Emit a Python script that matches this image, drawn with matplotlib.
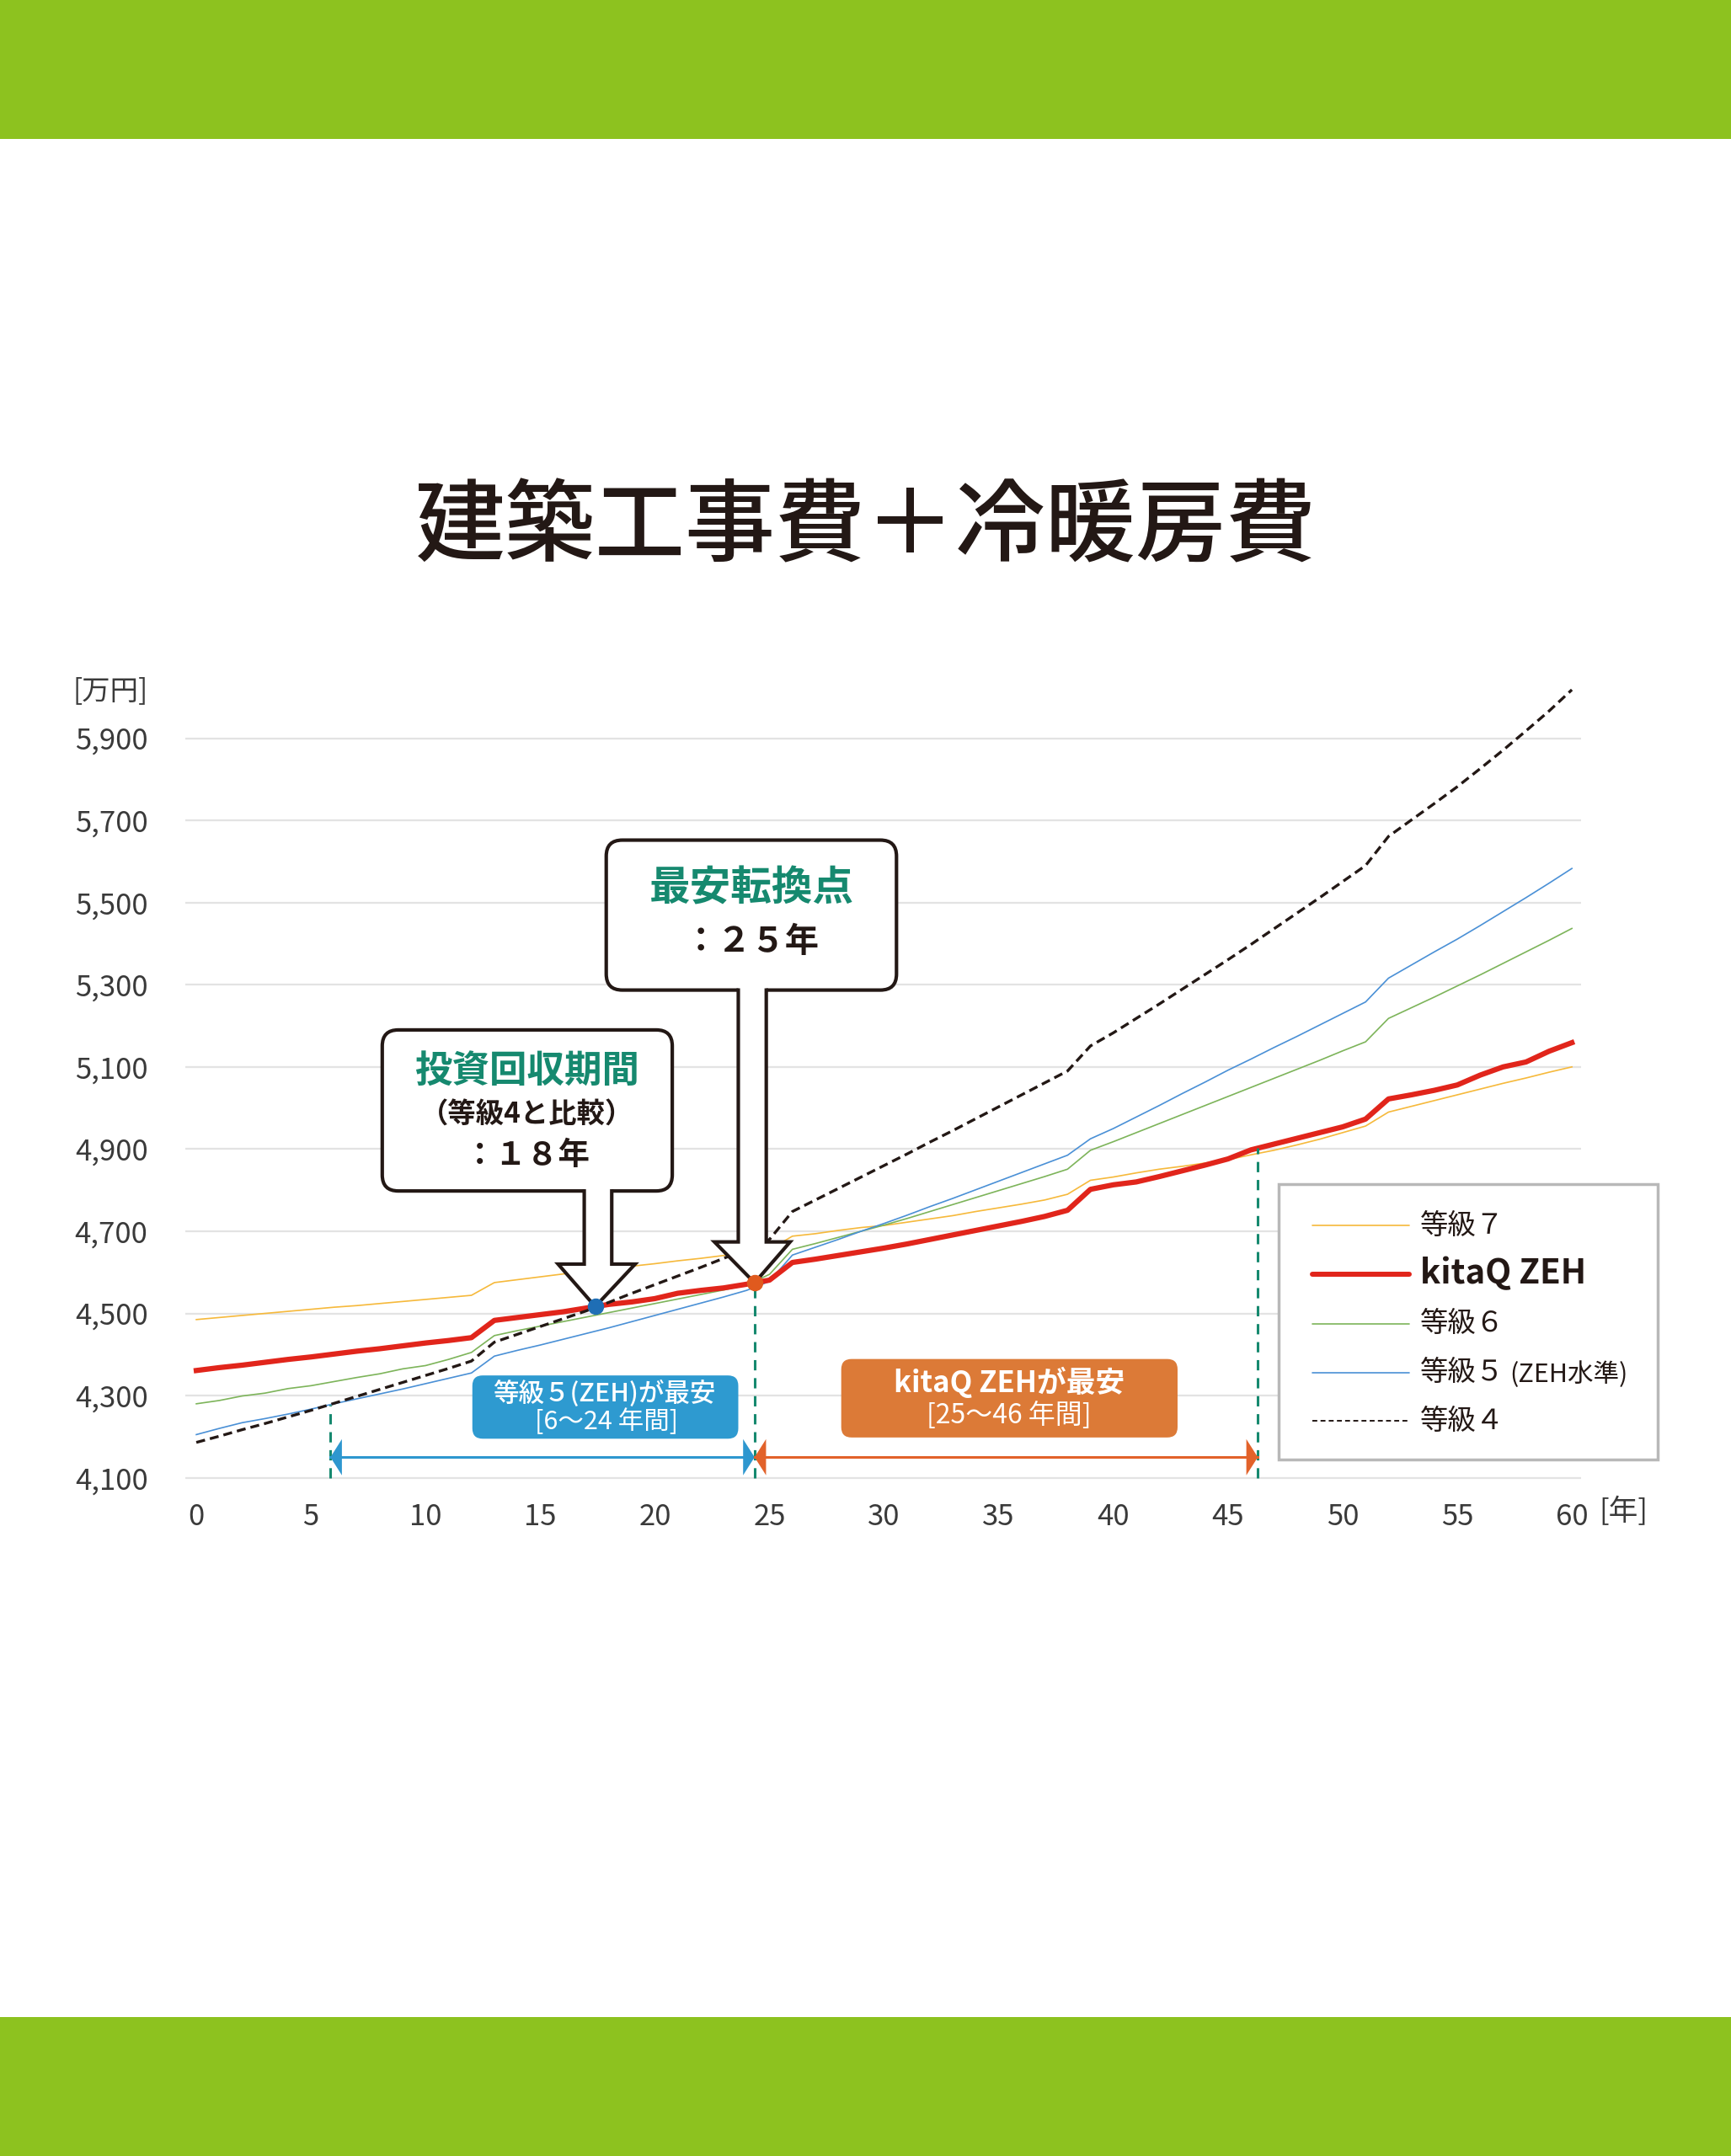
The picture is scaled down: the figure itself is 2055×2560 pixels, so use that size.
import numpy as np
import matplotlib.pyplot as plt
from matplotlib.patches import Rectangle, FancyBboxPatch, Polygon
from matplotlib.lines import Line2D

plt.rcParams['font.family'] = ['Noto Sans CJK JP', 'DejaVu Sans']

# --- data (万円) ---
years = list(range(0, 61))

grade7 = [4485, 4490, 4495, 4500, 4505, 4510, 4515, 4519, 4524, 4529, 4534, 4539, 4544,
          4575, 4582, 4589, 4596, 4603, 4609, 4615, 4621, 4628, 4634, 4641, 4647, 4655,
          4688, 4694, 4702, 4709, 4714, 4722, 4730, 4738, 4748, 4757, 4766, 4776, 4790,
          4824, 4832, 4842, 4851, 4858, 4866, 4874, 4886, 4897, 4910, 4924, 4940, 4956,
          4990, 5004, 5018, 5032, 5046, 5060, 5073, 5087, 5100]

kitaq = [4361, 4368, 4374, 4381, 4388, 4394, 4401, 4408, 4414, 4421, 4428, 4434, 4441,
         4483, 4490, 4497, 4504, 4513, 4522, 4528, 4536, 4549, 4556, 4562, 4571, 4581,
         4624, 4632, 4641, 4650, 4659, 4669, 4680, 4691, 4702, 4713, 4724, 4736, 4751,
         4802, 4813, 4820, 4833, 4847, 4861, 4876, 4898, 4912, 4926, 4940, 4954, 4973,
         5022, 5032, 5043, 5056, 5080, 5100, 5112, 5138, 5159]

grade6 = [4280, 4288, 4299, 4306, 4317, 4324, 4334, 4344, 4353, 4365, 4373, 4388, 4405,
          4446, 4458, 4469, 4480, 4491, 4502, 4513, 4524, 4535, 4546, 4557, 4569, 4595,
          4656, 4670, 4685, 4700, 4715, 4731, 4748, 4765, 4782, 4799, 4816, 4833, 4851,
          4897, 4918, 4940, 4962, 4984, 5006, 5028, 5050, 5072, 5094, 5116, 5139, 5161,
          5218, 5244, 5270, 5297, 5324, 5352, 5380, 5408, 5437]

grade5 = [4205, 4220, 4234, 4244, 4255, 4267, 4280, 4292, 4304, 4316, 4329, 4342, 4355,
          4396, 4410, 4423, 4437, 4451, 4465, 4480, 4495, 4510, 4525, 4540, 4556, 4578,
          4642, 4661, 4680, 4700, 4719, 4739, 4760, 4780, 4801, 4822, 4843, 4864, 4885,
          4925, 4950, 4978, 5006, 5035, 5063, 5092, 5119, 5147, 5174, 5202, 5230, 5258,
          5316, 5348, 5380, 5411, 5444, 5478, 5512, 5547, 5583]

grade4 = [4186, 4201, 4217, 4232, 4248, 4264, 4281, 4298, 4315, 4332, 4349, 4366, 4384,
          4430, 4449, 4468, 4487, 4506, 4527, 4549, 4570, 4591, 4612, 4634, 4656, 4680,
          4748, 4776, 4804, 4832, 4860, 4888, 4917, 4945, 4974, 5003, 5032, 5061, 5090,
          5151, 5183, 5218, 5253, 5289, 5325, 5361, 5398, 5436, 5474, 5512, 5551, 5590,
          5661, 5701, 5741, 5782, 5826, 5871, 5918, 5966, 6018]

y_ticks = [4100, 4300, 4500, 4700, 4900, 5100, 5300, 5500, 5700, 5900]
x_ticks = [0, 5, 10, 15, 20, 25, 30, 35, 40, 45, 50, 55, 60]

payback_year = 17.4      # kitaQ ZEH vs 等級4
switch_year = 24.35      # kitaQ ZEH becomes cheapest
zeh_from = 5.85
kitaq_until = 46.3

c_yellow = '#F6B93B'
c_red = '#E1251B'
c_green = '#7DB45A'
c_blue = '#4A90D6'
c_black = '#231815'
c_teal = '#16896F'
c_band = '#8DC21F'

W, H = 2055, 2560
fig = plt.figure(figsize=(W / 100, H / 100), dpi=100)
fig.patch.set_facecolor('white')

# green bands top and bottom
fig.add_artist(Rectangle((0, 1 - 165 / H), 1, 165 / H, transform=fig.transFigure,
                         fc=c_band, ec='none', zorder=0))
fig.add_artist(Rectangle((0, 0), 1, 165 / H, transform=fig.transFigure,
                         fc=c_band, ec='none', zorder=0))

fig.text(0.5, 1 - 628 / H, '建築工事費＋冷暖房費', ha='center', va='center',
         fontsize=77, fontweight='medium', color=c_black)

ax_l, ax_r, ax_b, ax_t = 220, 1877, 1764.4, 798.5
ax = fig.add_axes([ax_l / W, 1 - ax_b / H, (ax_r - ax_l) / W, (ax_b - ax_t) / H])
ax.set_xlim(-0.48, 60.4)
ax.set_ylim(4080, 6060)
for s in ax.spines.values():
    s.set_visible(False)
ax.set_yticks(y_ticks)
ax.set_yticklabels(['{:,}'.format(v) for v in y_ticks])
ax.set_xticks(x_ticks)
ax.tick_params(length=0, labelsize=25, colors='#3a3a3a')
ax.tick_params(axis='y', pad=32)
ax.tick_params(axis='x', pad=14)
ax.grid(axis='y', color='#e3e3e3', lw=1.6)
ax.set_axisbelow(True)

ax.plot(years, grade7, color=c_yellow, lw=1.2, zorder=3)
ax.plot(years, grade6, color=c_green, lw=1.2, zorder=3)
ax.plot(years, grade5, color=c_blue, lw=1.2, zorder=3)
ax.plot(years, kitaq, color=c_red, lw=4.5, zorder=4, solid_joinstyle='round')
ax.plot(years, grade4, color=c_black, lw=2.4, ls=(0, (3.2, 1.8)), zorder=5)

# units per pixel ratio so rounded corners stay round
aspect = (1980 / (ax_b - ax_t)) / (60.88 / (ax_r - ax_l))

# vertical dashed markers
y_zeh = np.interp(zeh_from, years, grade5)
y_pay = np.interp(payback_year, years, kitaq)
y_sw = np.interp(switch_year, years, kitaq)
y_end = np.interp(kitaq_until, years, kitaq)
for xv, yv in [(zeh_from, y_zeh), (switch_year, y_sw), (kitaq_until, y_end)]:
    ax.plot([xv, xv], [4100, yv], color=c_teal, lw=2.2, ls=(0, (4, 3)), zorder=6)

# range arrows
arrow_y = 4150
def range_arrow(x0, x1, color):
    ax.plot([x0, x1], [arrow_y, arrow_y], color=color, lw=2.2, zorder=6)
    hl, hh = 0.5, 44
    ax.add_patch(Polygon([(x0, arrow_y), (x0 + hl, arrow_y + hh), (x0 + hl, arrow_y - hh)],
                         closed=True, fc=color, ec='none', zorder=6))
    ax.add_patch(Polygon([(x1, arrow_y), (x1 - hl, arrow_y + hh), (x1 - hl, arrow_y - hh)],
                         closed=True, fc=color, ec='none', zorder=6))

range_arrow(zeh_from, switch_year, '#2E97CF')
range_arrow(switch_year, kitaq_until, '#E2622A')

# label boxes
def label_box(x0, x1, y0, y1, color):
    ax.add_patch(FancyBboxPatch((x0, y0), x1 - x0, y1 - y0,
                                boxstyle='round,pad=0,rounding_size=0.45',
                                mutation_aspect=aspect, fc=color, ec='none', zorder=7))

label_box(12.04, 23.64, 4195, 4349, '#2E9AD0')
ax.text(17.8, 4304, '等級５(ZEH)が最安', ha='center', va='center', color='white',
        fontsize=22, fontweight='medium', zorder=8)
ax.text(17.9, 4236, '[6〜24 年間]', ha='center', va='center', color='white',
        fontsize=22, zorder=8)

label_box(28.13, 42.8, 4198, 4389, '#DC7A37')
ax.text(35.45, 4333, 'kitaQ ZEHが最安', ha='center', va='center', color='white',
        fontsize=25, fontweight='bold', zorder=8)
ax.text(35.45, 4252, '[25〜46 年間]', ha='center', va='center', color='white',
        fontsize=23, zorder=8)

# callouts with hollow arrows
def callout(box, shaft, head, head_y, tip):
    x0, x1, y0, y1 = box
    ax.add_patch(FancyBboxPatch((x0, y0), x1 - x0, y1 - y0,
                                boxstyle='round,pad=0,rounding_size=0.7',
                                mutation_aspect=aspect, fc='white', ec=c_black,
                                lw=3, zorder=9))
    pts = [(shaft[0], y0), (shaft[0], head_y), (head[0], head_y), tip,
           (head[1], head_y), (shaft[1], head_y), (shaft[1], y0)]
    ax.add_patch(Polygon(pts + [(shaft[1], y0 + 14), (shaft[0], y0 + 14)], closed=True,
                         fc='white', ec='none', zorder=10))
    xs, ys = zip(*pts)
    ax.plot(xs, ys, color=c_black, lw=3, zorder=11, solid_joinstyle='miter')

callout((8.11, 20.76, 4798, 5190), (16.92, 18.12), (15.78, 19.14), 4620,
        (payback_year, y_pay))
ax.text(14.43, 5090, '投資回収期間', ha='center', va='center', color=c_teal,
        fontsize=32, fontweight='bold', zorder=12)
ax.text(14.43, 4983, '（等級4と比較）', ha='center', va='center', color=c_black,
        fontsize=24, fontweight='bold', zorder=12)
ax.text(14.43, 4886, '：１８年', ha='center', va='center', color=c_black,
        fontsize=27, fontweight='bold', zorder=12)

callout((17.88, 30.54, 5287, 5652), (23.64, 24.86), (22.6, 25.9), 4674,
        (switch_year, y_sw))
ax.text(24.21, 5535, '最安転換点', ha='center', va='center', color=c_teal,
        fontsize=35, fontweight='bold', zorder=12)
ax.text(24.21, 5405, '：２５年', ha='center', va='center', color=c_black,
        fontsize=29, fontweight='bold', zorder=12)

# crossing dots
ax.plot([payback_year], [y_pay], 'o', ms=13, color='#1F6EB5', zorder=13)
ax.plot([switch_year], [y_sw], 'o', ms=13, color='#E05A1E', zorder=13)

# axis unit labels
fig.text(86 / W, 1 - 821 / H, '[万円]', ha='left', va='center', fontsize=24, color='#3a3a3a')
fig.text(1898 / W, 1 - 1796 / H, '[年]', ha='left', va='center', fontsize=25, color='#3a3a3a')

# legend drawn by hand (one label uses two font sizes)
fig.add_artist(Rectangle((1518 / W, 1 - 1733 / H), 450 / W, 327 / H, transform=fig.transFigure,
                         fc='white', ec='#b8b8b8', lw=2.5, zorder=2))
rows = [('等級７', c_yellow, 1.2, '-', 'normal', 24),
        ('kitaQ ZEH', c_red, 4.3, '-', 'bold', 29),
        ('等級６', c_green, 1.2, '-', 'normal', 24),
        ('等級５', c_blue, 1.2, '-', 'normal', 24),
        ('等級４', c_black, 1.4, (0, (3, 2)), 'normal', 24)]
row_y = [1455, 1513, 1572, 1630, 1687]
for (lab, col, lw, ls, fw, fs), yy in zip(rows, row_y):
    yf = 1 - yy / H
    fig.add_artist(Line2D([1558 / W, 1673 / W], [yf, yf], transform=fig.transFigure,
                          color=col, lw=lw, ls=ls, solid_capstyle='round', zorder=3))
    fig.text(1686 / W, yf, lab, ha='left', va='center', fontsize=fs, fontweight=fw,
             color=c_black, zorder=3)
fig.text(1792 / W, 1 - 1632 / H, '(ZEH水準)', ha='left', va='center', fontsize=22,
         color=c_black, zorder=3)

fig.savefig('out.png', dpi=100)
